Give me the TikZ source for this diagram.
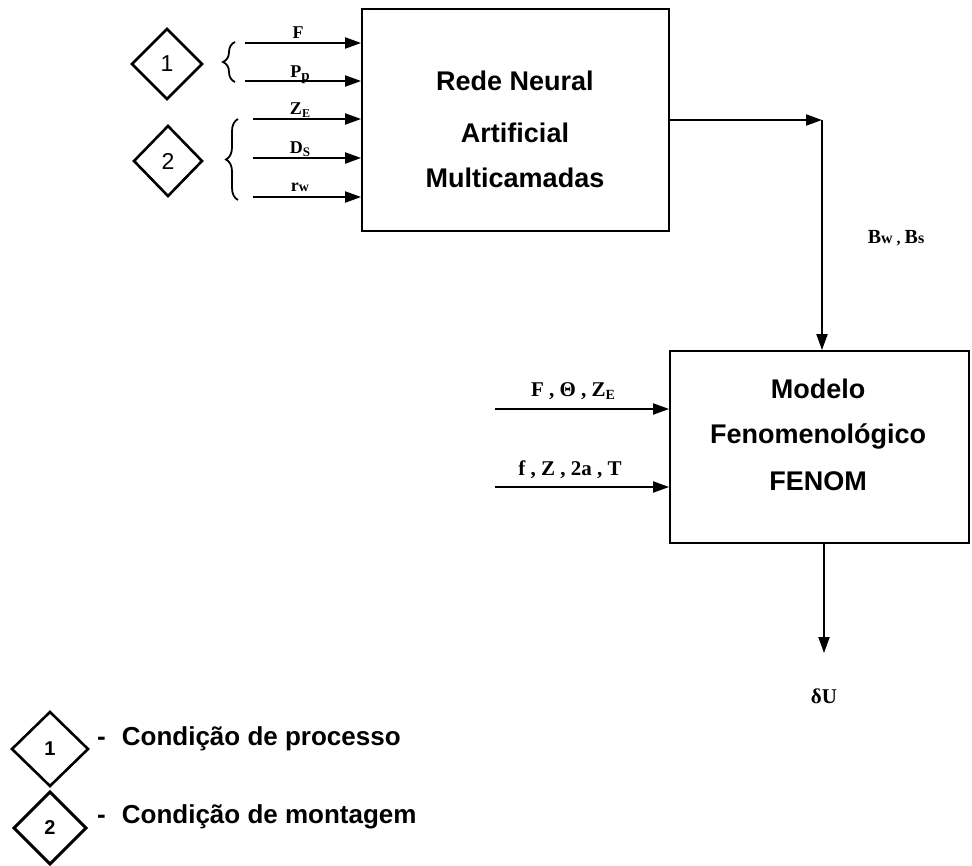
\documentclass[tikz,border=0pt]{standalone}
\usepackage{fontspec}
\setmainfont{Liberation Serif}
\setsansfont{Liberation Sans}
\usetikzlibrary{arrows.meta,decorations.pathreplacing}
\begin{document}
\begin{tikzpicture}[x=1pt,y=-1pt,
  blk/.style={draw,line width=1.8pt,inner sep=0pt},
  arr/.style={line width=2pt,-{Triangle[length=16pt,width=11pt]}},
  blktxt/.style={font=\sffamily\bfseries\fontsize{27}{30}\selectfont,anchor=base,inner sep=0pt},
  var/.style={font=\bfseries\fontsize{18}{20}\selectfont,anchor=base,inner sep=0pt},
  var2/.style={font=\bfseries\fontsize{21}{24}\selectfont,anchor=base,inner sep=0pt},
  legtxt/.style={font=\sffamily\bfseries\fontsize{26}{30}\selectfont,anchor=base west,inner sep=0pt},
  brc/.style={decorate,decoration={brace,amplitude=12pt},line width=1.8pt},
  dmd/.style={line width=2.6pt,line join=miter}
]
\useasboundingbox (0,0) rectangle (972,865);

% neural network block
\node[blk,minimum width=307pt,minimum height=222pt] (rna) at (515.5,120) {};
\node[blktxt] (t1) at (515,90) {Rede Neural};
\node[blktxt] (t2) at (515,142) {Artificial};
\node[blktxt] (t3) at (515,187) {Multicamadas};

% phenomenological model block
\node[blk,minimum width=299pt,minimum height=192pt] (fen) at (819.5,447) {};
\node[blktxt] (m1) at (818,398) {Modelo};
\node[blktxt] (m2) at (818,443) {Fenomenológico};
\node[blktxt] (m3) at (818,490) {FENOM};

% network inputs
\coordinate (iF) at (245,43);
\coordinate (iP) at (245,81);
\coordinate (iZ) at (253,119);
\coordinate (iD) at (253,158);
\coordinate (iR) at (253,197);
\foreach \c in {iF,iP,iZ,iD,iR}
  \draw[arr] (\c) -- (\c -| rna.west);
\node[var] (lF) at (298,38) {F};
\node[var] (lP) at (300,77) {P\raisebox{-3pt}{\fontsize{15}{16}\selectfont p}};
\node[var] (lZ) at (300,114) {Z\raisebox{-3pt}{\fontsize{12}{13}\selectfont E}};
\node[var] (lD) at (300,153) {D\raisebox{-3pt}{\fontsize{13}{14}\selectfont S}};
\node[var] (lR) at (300,191) {r\fontsize{14}{15}\selectfont w};

% groups of inputs
\draw[brc] (235,82) -- (235,42);
\draw[brc] (238,200) -- (238,119);
\draw[dmd] (132,64) -- (167,29) -- (202,64) -- (167,99) -- cycle;
\node[font=\sffamily\fontsize{23}{26}\selectfont] (n1) at (167,64) {1};
\draw[dmd] (134,161) -- (168,126) -- (202,161) -- (168,196) -- cycle;
\node[font=\sffamily\fontsize{23}{26}\selectfont] (n2) at (168,161) {2};

% network output to model
\coordinate (c1) at (822,120);
\draw[arr] (rna.east |- c1) -- (c1);
\draw[arr] (c1) -- (c1 |- fen.north);
\node[var2,font=\bfseries\fontsize{20}{22}\selectfont] (lB) at (896,243) {B\fontsize{16}{18}\selectfont w , \fontsize{20}{22}\selectfont B\fontsize{16}{18}\selectfont s};

% model inputs
\coordinate (j1) at (495,409);
\coordinate (j2) at (495,487);
\draw[arr] (j1) -- (j1 -| fen.west);
\draw[arr] (j2) -- (j2 -| fen.west);
\node[var2] (lj1) at (573,396) {F , Θ , Z\raisebox{-3pt}{\fontsize{14}{15}\selectfont E}};
\node[var2] (lj2) at (570,475) {f , Z , 2a , T};

% model output
\coordinate (o1) at (824,653);
\draw[arr] (o1 |- fen.south) -- (o1);
\node[var2] (lU) at (824,703) {δU};

% legend
\draw[dmd] (12,749) -- (50,712) -- (88,749) -- (50,786) -- cycle;
\node[font=\sffamily\bfseries\fontsize{20}{22}\selectfont] (k1) at (50,749) {1};
\draw[line width=3pt,line join=miter] (14,828) -- (50,792) -- (86,828) -- (50,864) -- cycle;
\node[font=\sffamily\bfseries\fontsize{20}{22}\selectfont] (k2) at (50,828) {2};
\node[legtxt] (g1) at (97,745) {-\hspace{16pt}Condição de processo};
\node[legtxt] (g2) at (97,823) {-\hspace{16pt}Condição de montagem};
\end{tikzpicture}
\end{document}
